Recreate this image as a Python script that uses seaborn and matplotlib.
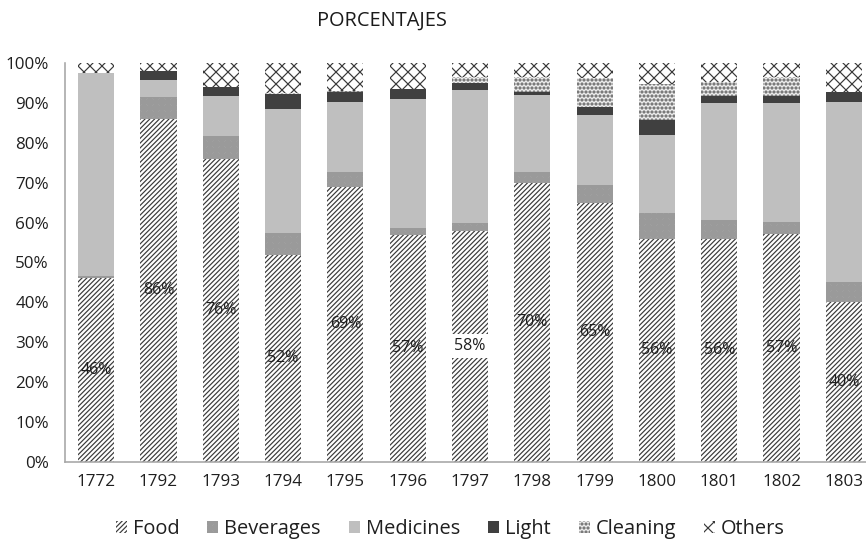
import matplotlib
matplotlib.use("Agg")
import matplotlib.pyplot as plt
from matplotlib.patches import Patch
import numpy as np
import pandas as pd
import seaborn as sns

years = ["1772", "1792", "1793", "1794", "1795", "1796", "1797",
         "1798", "1799", "1800", "1801", "1802", "1803"]
food = [46, 86, 76, 52, 69, 57, 58, 70, 65, 56, 56, 57, 40]
beverages = [0.5, 5.5, 5.6, 5.5, 3.8, 1.6, 2.0, 2.8, 4.4, 6.4, 4.6, 3.1, 5.0]
medicines = [51.0, 4.3, 10.1, 31.0, 17.5, 32.3, 33.2, 19.2, 17.6, 19.6, 29.5, 29.7, 45.3]
light = [0.0, 2.2, 2.4, 3.8, 2.5, 2.5, 1.7, 0.8, 2.0, 3.6, 1.7, 1.8, 2.5]
cleaning = [0.0, 0.0, 0.0, 0.3, 0.3, 0.0, 1.5, 3.8, 7.2, 9.2, 3.5, 4.9, 0.0]
others = [2.5, 2.0, 5.9, 7.4, 6.9, 6.6, 3.6, 3.4, 3.8, 5.2, 4.7, 3.4, 7.2]
categories = ["Food", "Beverages", "Medicines", "Light", "Cleaning", "Others"]

df = pd.DataFrame({"year": years, "Food": food, "Beverages": beverages,
                   "Medicines": medicines, "Light": light,
                   "Cleaning": cleaning, "Others": others})
# shares of each year's total
tot = df[categories].sum(axis=1)
for c in categories:
    df[c] = df[c] / tot
cum = df[categories].cumsum(axis=1)

styles = {
    "Food":      dict(color="white",   hatch="/////",      edgecolor="#3a3a3a"),
    "Beverages": dict(color="#c8c8c8", hatch="xxxxxxxxxx", edgecolor="#9a9a9a"),
    "Medicines": dict(color="#bfbfbf", hatch=None,         edgecolor="#bfbfbf"),
    "Light":     dict(color="#404040", hatch=None,         edgecolor="#404040"),
    "Cleaning":  dict(color="#ececec", hatch="ooo",        edgecolor="#7a7a7a"),
    "Others":    dict(color="white",   hatch="xx",         edgecolor="#3a3a3a"),
}

sns.set_theme(style="white")
plt.rcParams["font.family"] = ["Open Sans", "DejaVu Sans"]
plt.rcParams["hatch.linewidth"] = 1.2

DPI = 72
fig = plt.figure(figsize=(866 / DPI, 540 / DPI), dpi=DPI)
ax = fig.add_axes([65 / 866, 1 - 462 / 540, 810 / 866, 399 / 540])

# stacked bars: draw the cumulative totals from the top layer down
for c in reversed(categories):
    st = styles[c]
    sns.barplot(x=df["year"], y=cum[c], order=years, ax=ax, color=st["color"],
                saturation=1, width=0.58, linewidth=0,
                edgecolor=st["edgecolor"], hatch=st["hatch"])

ax.set_ylim(0, 1)
ax.set_xlim(-0.5, 12.5)
ax.set_yticks(np.arange(0, 1.01, 0.1))
ax.set_yticklabels([f"{int(round(v * 100))}%" for v in np.arange(0, 1.01, 0.1)])
ax.set_xlabel("")
ax.set_ylabel("")
ax.tick_params(axis="both", length=0, labelsize=17, colors="#1f1f1f")
ax.tick_params(axis="y", pad=16)
ax.tick_params(axis="x", pad=12)
for s in ["top", "right"]:
    ax.spines[s].set_visible(False)
for s in ["left", "bottom"]:
    ax.spines[s].set_color("#a6a6a6")
    ax.spines[s].set_linewidth(1.6)
ax.grid(False)

# percentage labels in the middle of the Food segment
for i, v in enumerate(df["Food"]):
    kw = {}
    if years[i] == "1797":
        kw["bbox"] = dict(facecolor="white", edgecolor="none", pad=4)
    ax.text(i, v / 2, f"{int(round(v * 100))}%", ha="center", va="center",
            fontsize=16, color="#1f1f1f", **kw)

fig.text(0.441, 1 - 21 / 540, "PORCENTAJES", ha="center", va="center",
         fontsize=20, color="#1a1a1a")

handles = [Patch(facecolor=styles[c]["color"], edgecolor=styles[c]["edgecolor"],
                 hatch=styles[c]["hatch"], linewidth=0, label=c) for c in categories]
fig.legend(handles=handles, loc="center", bbox_to_anchor=(0.52, 1 - 529 / 540),
           ncol=6, frameon=False, fontsize=20, handlelength=0.55, handleheight=0.55,
           handletextpad=0.3, columnspacing=1.4, labelcolor="#1f1f1f")

fig.savefig("out.png", dpi=DPI)
